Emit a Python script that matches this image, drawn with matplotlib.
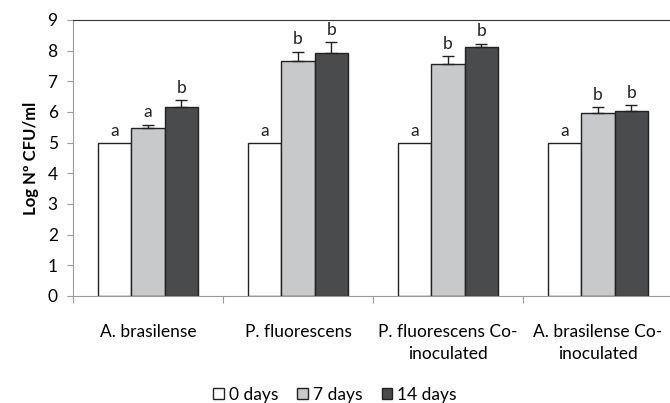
import matplotlib
matplotlib.use("Agg")
import matplotlib.pyplot as plt
import numpy as np

categories = ["A. brasilense", "P. fluorescens", "P. fluorescens Co-\ninoculated", "A. brasilense Co-\ninoculated"]
series_names = ["0 days", "7 days", "14 days"]
day0 = [5.0, 5.0, 5.0, 5.0]
day7 = [5.49, 7.66, 7.57, 5.97]
day14 = [6.16, 7.92, 8.11, 6.02]
err0 = [0, 0, 0, 0]
err7 = [0.10, 0.31, 0.26, 0.19]
err14 = [0.22, 0.37, 0.12, 0.20]
letters0 = ["a", "a", "a", "a"]
letters7 = ["a", "b", "b", "b"]
letters14 = ["b", "b", "b", "b"]

plt.rcParams['font.family'] = ['Lato', 'DejaVu Sans']
fig = plt.figure(figsize=(6.7, 4.03), dpi=100)
ax = fig.add_axes([73/670, 1-296/403, 600/670, 276/403])

colors = ["#ffffff", "#c8c9cb", "#4a4b4d"]
x = np.arange(len(categories))
w = 0.223
vals = [day0, day7, day14]
errs = [err0, err7, err14]
lets = [letters0, letters7, letters14]
handles = []
for i in range(3):
    pos = x + (i - 1) * w
    b = ax.bar(pos, vals[i], w, color=colors[i], edgecolor="#222222", linewidth=1.0, zorder=2, label=series_names[i])
    handles.append(b)
    e = np.array(errs[i])
    mask = e > 0
    if mask.any():
        ax.errorbar(pos[mask], np.array(vals[i])[mask], yerr=[np.zeros(mask.sum()), e[mask]],
                    fmt='none', ecolor='#222222', elinewidth=1.0, capsize=4, capthick=1.0, zorder=3)
    for j in range(len(categories)):
        ax.annotate(lets[i][j], (pos[j], vals[i][j] + errs[i][j]), xytext=(0, 3),
                    textcoords='offset points', ha='center', va='bottom', fontsize=12.5, color='#222222')

ax.set_xlim(-0.5, len(categories) - 0.5)
ax.set_ylim(0, 9)
ax.set_yticks(range(0, 10))
ax.tick_params(axis='y', length=4, color='#999999', labelsize=12.5, pad=7)
ax.set_xticks(np.arange(len(categories) + 1) - 0.5)
ax.set_xticklabels([])
ax.tick_params(axis='x', length=5, color='#999999')
ax.set_xticks(x, minor=True)
ax.set_xticklabels(categories, minor=True, fontsize=12.5)
ax.tick_params(axis='x', which='minor', length=0, pad=20)
for lbl in ax.get_xticklabels(minor=True):
    lbl.set_linespacing(1.45)
ax.spines['left'].set_color('#999999')
ax.spines['bottom'].set_color('#999999')
ax.spines['top'].set_color('#333333')
ax.spines['right'].set_visible(False)
ax.set_ylabel("Log Nº CFU/ml", fontsize=12, fontweight='bold', labelpad=6)

fig.legend(handles=handles, labels=series_names, loc='center', bbox_to_anchor=(0.5, 1-395/403),
           ncol=3, frameon=False, fontsize=12.5, handlelength=0.6, handleheight=0.6,
           handletextpad=0.3, columnspacing=1.1, borderaxespad=0, borderpad=0)

fig.savefig("out.png", dpi=100)
